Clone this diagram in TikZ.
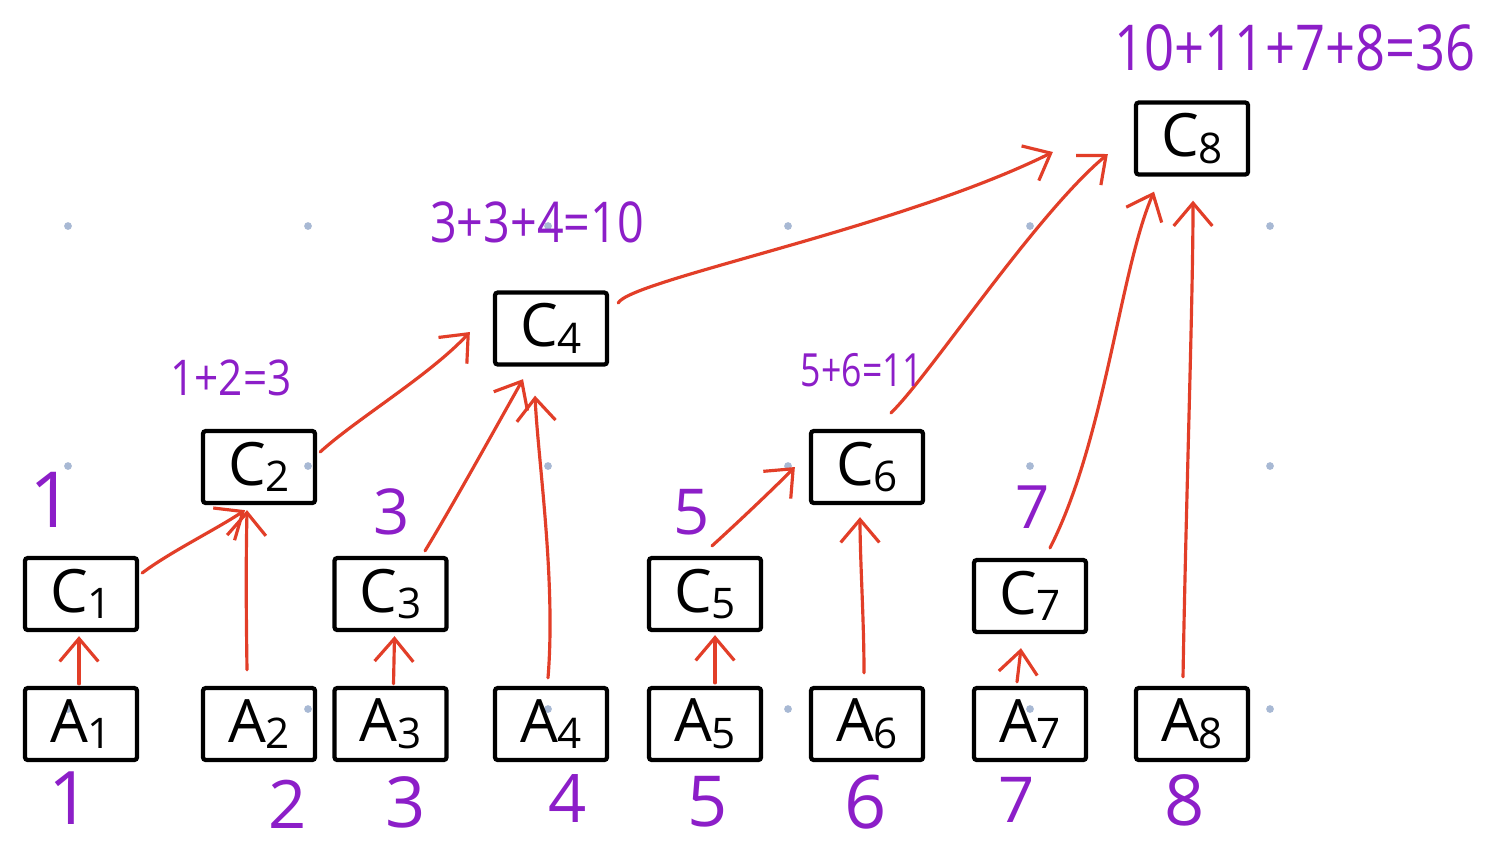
\documentclass[tikz,border=0pt]{standalone}
\usepackage{fontspec}
\setmainfont{Open Sans}
\usetikzlibrary{arrows.meta,calc}
\definecolor{penred}{RGB}{226,62,40}
\definecolor{penpurple}{RGB}{140,30,200}
\definecolor{dotblue}{RGB}{168,185,212}
\newcommand\blab[2]{{\fontsize{17}{17}\selectfont #1}\raisebox{-0.35ex}{\fontsize{12}{12}\selectfont #2}}
\newcommand\eqlab[3]{\scalebox{#2}[1]{\fontsize{#1}{#1}\selectfont #3}}
\newcommand\fs[1]{\fontsize{#1}{#1}\selectfont}
\begin{document}
\begin{tikzpicture}[x=0.01cm,y=-0.01cm,
  cell/.style={draw=black,line width=1.2pt,rounded corners=0.8pt,minimum width=1.12cm,minimum height=0.72cm,inner sep=0pt},
  arr/.style={draw=penred,line width=0.9pt,line cap=round,line join=round,-{Straight Barb[length=6.5pt,width=11pt,line width=0.9pt]}},
  lab/.style={text=penpurple,inner sep=0pt}]
\useasboundingbox (0,0) rectangle (1486,844);
\fill[white] (0,0) rectangle (1486,844);
% background dots
\foreach \x in {68,308,548,788,1030,1270}
  \foreach \y in {226,466,709}
    \fill[dotblue] (\x,\y) circle[radius=1.1pt];
% boxes
\node[cell] (A1) at (81,724) {\blab{A}{1}};
\node[cell] (A2) at (259,724) {\blab{A}{2}};
\node[cell] (A3) at (390.5,724) {\blab{A}{3}};
\node[cell] (A4) at (551,724) {\blab{A}{4}};
\node[cell] (A5) at (705,724) {\blab{A}{5}};
\node[cell] (A6) at (867,724) {\blab{A}{6}};
\node[cell] (A7) at (1030,724) {\blab{A}{7}};
\node[cell] (A8) at (1192,724) {\blab{A}{8}};
\node[cell] (C1) at (81,594) {\blab{C}{1}};
\node[cell] (C2) at (259,467) {\blab{C}{2}};
\node[cell] (C3) at (390.5,594) {\blab{C}{3}};
\node[cell] (C4) at (551,328.5) {\blab{C}{4}};
\node[cell] (C5) at (705,594) {\blab{C}{5}};
\node[cell] (C6) at (867,467) {\blab{C}{6}};
\node[cell] (C7) at (1030,596) {\blab{C}{7}};
\node[cell] (C8) at (1192,138.5) {\blab{C}{8}};
% arrows
\draw[arr] ($(A1.north)+(-2,-2)$) -- ($(C1.south)+(-2,4)$);
\draw[arr] ($(C1.east)+(3,-21)$) .. controls (170,552) and (215,530) .. ($(C2.south)+(-14,5)$);
\draw[arr] ($(A2.north)+(-12,-16)$) .. controls (246,600) and (246,560) .. ($(C2.south)+(-12,5)$);
\draw[arr] ($(A3.north)+(3,-2)$) -- ($(C3.south)+(4,4)$);
\draw[arr] ($(C2.east)+(3,-15)$) .. controls (355,420) and (430,375) .. ($(C4.west)+(-23,3.5)$);
\draw[arr] ($(C3.north)+(34.5,-5)$) .. controls (450,510) and (500,420) .. ($(C4.south)+(-28,12.5)$);
\draw[arr] ($(A4.north)+(-3,-8)$) .. controls (556,580) and (538,460) .. ($(C4.south)+(-16,29)$);
\draw[arr] ($(A5.north)+(10,-3)$) -- ($(C5.south)+(10,3)$);
\draw[arr] ($(C5.north)+(7,-10)$) .. controls (735,525) and (770,492) .. ($(C6.west)+(-14,0)$);
\draw[arr] ($(A6.north)+(-3,-13)$) .. controls (864,620) and (860,560) .. ($(C6.south)+(-7,12)$);
\draw[arr] ($(A7.north)+(-13,-4)$) -- ($(C7.south)+(-9,14)$);
\draw[arr] ($(C4.east)+(9,-25.5)$) .. controls (630,280) and (900,228) .. ($(C8.west)+(-81,13.5)$);
\draw[arr] ($(C6.north)+(24,-16)$) .. controls (930,375) and (1035,215) .. ($(C8.west)+(-26,15.5)$);
\draw[arr] ($(C7.north)+(20,-10)$) .. controls (1105,440) and (1120,270) .. ($(C8.south)+(-38,15)$);
\draw[arr] ($(A8.north)+(-9,-9)$) .. controls (1186,500) and (1193,300) .. ($(C8.south)+(1,24)$);
% purple sums
\node[lab] (s8) at (1295,48) {\eqlab{18}{0.83}{10+11+7+8=36}};
\node[lab] (s4) at (537,222) {\eqlab{16}{0.83}{3+3+4=10}};
\node[lab] (s2) at (231,378) {\eqlab{14}{0.86}{1+2=3}};
\node[lab] (s6) at (862,370) {\eqlab{13}{0.78}{5+6=11}};
\node[lab,font=\fs{22}] (v1) at (52,500) {1};
\node[lab,font=\fs{18}] (v3) at (392,512) {3};
\node[lab,font=\fs{18}] (v5) at (692,512) {5};
\node[lab,font=\fs{17}] (v7) at (1033,507) {7};
% bottom values
\node[lab,font=\fs{21}] (b1) at (70,798) {1};
\node[lab,font=\fs{19}] (b2) at (288,804) {2};
\node[lab,font=\fs{20}] (b3) at (406,802) {3};
\node[lab,font=\fs{19}] (b4) at (568,798) {4};
\node[lab,font=\fs{20}] (b5) at (708,802) {5};
\node[lab,font=\fs{21}] (b6) at (866,802) {6};
\node[lab,font=\fs{18}] (b7) at (1017,800) {7};
\node[lab,font=\fs{20}] (b8) at (1185,800) {8};
\end{tikzpicture}
\end{document}
